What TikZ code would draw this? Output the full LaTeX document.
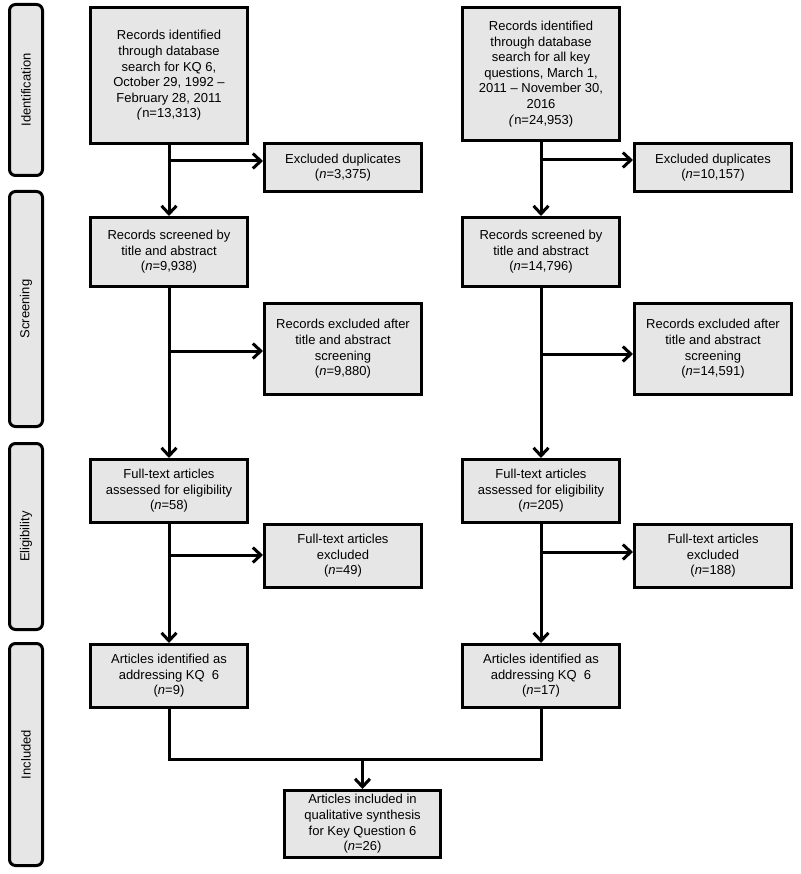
\documentclass[tikz,border=0pt]{standalone}
\usepackage{fontspec}
\setmainfont{Liberation Sans}
\usetikzlibrary{arrows.meta}
\definecolor{boxgray}{RGB}{230,230,230}

\begin{document}
\begin{tikzpicture}[x=1pt, y=-1pt, line width=3pt, every node/.style={font=\fontsize{13}{15.6}\selectfont}]

    \newcommand{\sidearr}[3]{\coordinate (#1) at #2; \draw[arr] (#1) -- (#1 -| #3.west)}

    \tikzstyle{stage}=[draw, fill=boxgray, rounded corners=6pt, rotate=90, minimum height=33pt, inner sep=0pt]
    \tikzstyle{mbox}=[draw, fill=boxgray, align=center, minimum width=157pt, inner sep=2pt]
    \tikzstyle{arr}=[-{Straight Barb[length=8pt, width=15pt]}]

    \useasboundingbox (0,0) rectangle (800,874);

    % stages
    \node[stage, minimum width=171pt] (ident) at (26,90) {Identification};
    \node[stage, minimum width=235pt] (screen) at (26,309) {Screening};
    \node[stage, minimum width=186pt] (elig) at (26,536.5) {Eligibility};
    \node[stage, minimum width=222pt] (incl) at (26,754.5) {Included};

    % left column (KQ 6 search)
    \node[mbox, minimum height=136pt] (recL) at (169,75.5) {Records identified\\through database\\search for KQ 6,\\October 29, 1992 --\\February 28, 2011\\\textit{(}n=13,313)};
    \node[mbox, minimum height=48pt] (dupL) at (343,167.5) {Excluded duplicates\\(\textit{n}=3,375)};
    \node[mbox, minimum height=69pt] (scrL) at (169,252) {Records screened by\\title and abstract\\(\textit{n}=9,938)};
    \node[mbox, minimum height=91pt] (exaL) at (343,349) {Records excluded after\\title and abstract\\screening\\(\textit{n}=9,880)};
    \node[mbox, minimum height=63pt] (ftL) at (169,491) {Full-text articles\\assessed for eligibility\\(\textit{n}=58)};
    \node[mbox, minimum height=63pt] (fteL) at (343,556) {Full-text articles\\excluded\\(\textit{n}=49)};
    \node[mbox, minimum height=63pt] (artL) at (169,676) {Articles identified as\\addressing KQ\ \ 6\\(\textit{n}=9)};

    % right column (all key questions)
    \node[mbox, minimum height=133pt] (recR) at (541,74) {Records identified\\through database\\search for all key\\questions, March 1,\\2011 -- November 30,\\2016\\\textit{(}n=24,953)};
    \node[mbox, minimum height=48pt] (dupR) at (713,167.5) {Excluded duplicates\\(\textit{n}=10,157)};
    \node[mbox, minimum height=69pt] (scrR) at (541,252) {Records screened by\\title and abstract\\(\textit{n}=14,796)};
    \node[mbox, minimum height=91pt] (exaR) at (713,349) {Records excluded after\\title and abstract\\screening\\(\textit{n}=14,591)};
    \node[mbox, minimum height=63pt] (ftR) at (541,491) {Full-text articles\\assessed for eligibility\\(\textit{n}=205)};
    \node[mbox, minimum height=63pt] (fteR) at (713,556) {Full-text articles\\excluded\\(\textit{n}=188)};
    \node[mbox, minimum height=63pt] (artR) at (541,676) {Articles identified as\\addressing KQ\ \ 6\\(\textit{n}=17)};

    \node[mbox, minimum width=156pt, minimum height=67pt] (final) at (362.5,824) {Articles included in\\qualitative synthesis\\for Key Question 6\\(\textit{n}=26)};

    % trunks
    \foreach \a/\b in {recL/scrL, scrL/ftL, ftL/artL, recR/scrR, scrR/ftR, ftR/artR} {
        \draw[arr] (\a.south) -- (\b.north);
    }

    % exclusions
    \sidearr{jdupL}{(169,161)}{dupL};
    \sidearr{jexaL}{(169,351)}{exaL};
    \sidearr{jfteL}{(169,555)}{fteL};
    \sidearr{jdupR}{(541,160)}{dupR};
    \sidearr{jexaR}{(541,354)}{exaR};
    \sidearr{jfteR}{(541,552)}{fteR};

    % merge
    \coordinate (mrg) at (362.5,759);
    \draw (artL.south) |- (mrg -| artR.south) -- (artR.south);
    \draw[arr] (mrg) -- (final.north);

\end{tikzpicture}
\end{document}
